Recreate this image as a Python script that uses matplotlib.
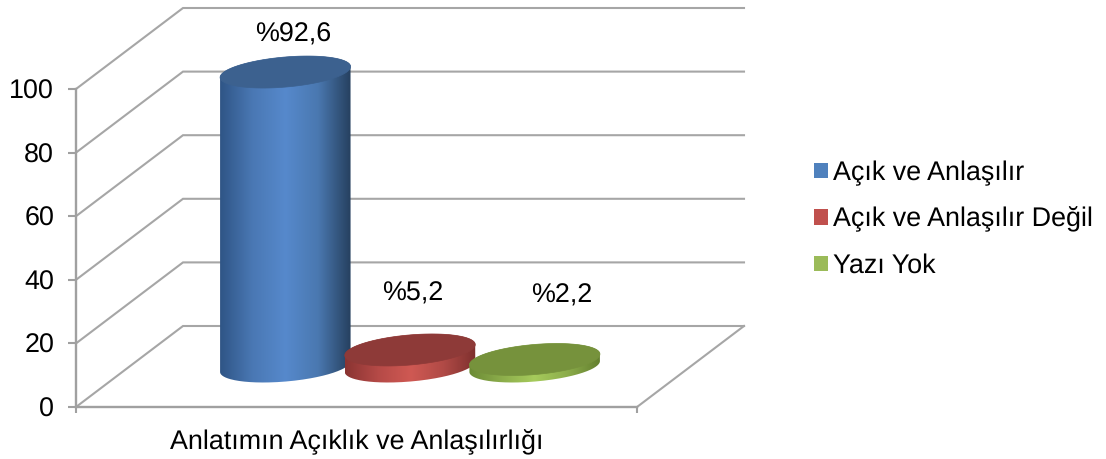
# -*- coding: utf-8 -*-
import numpy as np
import matplotlib
matplotlib.use('Agg')
import matplotlib.pyplot as plt
from matplotlib.colors import LinearSegmentedColormap
from matplotlib.patches import Patch, PathPatch, Polygon
from matplotlib.path import Path

plt.rcParams['font.family'] = ['Liberation Sans', 'DejaVu Sans']
plt.rcParams['text.hinting'] = 'no_hinting'

# data
series_names = ['Açık ve Anlaşılır', 'Açık ve Anlaşılır Değil', 'Yazı Yok']
values = [92.6, 5.2, 2.2]
category = 'Anlatımın Açıklık ve Anlaşılırlığı'
y_ticks = [0, 20, 40, 60, 80, 100]

# styles
legend_colors = ['#4f81bd', '#c0504d', '#9bbb59']
top_colors = ['#3c618f', '#8e3a38', '#76923c']
side_colors = [['#2f5586', '#4a78b4', '#5689cc', '#4a78b0', '#26405f'],
               ['#8a3432', '#b54a47', '#cf5953', '#b04a46', '#7c2f2d'],
               ['#6b8a35', '#8cad4b', '#a6cb5c', '#8cad4b', '#64802f']]
label_offsets = [(8, 37.5), (3, 56), (27, 64)]  # pixels from centre of the top face
grid_color = '#a6a6a6'
font_size = 19.4

W, H = 1106, 459
fig = plt.figure(figsize=(W / 100, H / 100), dpi=100)
ax = fig.add_axes([76 / W, (H - 407) / H, 561 / W, 318 / H])

px_x = 561 / 4.5   # pixels per category step
px_y = 318 / 100.  # pixels per value unit
depth_x = 107 / px_x
depth_y = 81 / px_y


def front_to_back(xs, ys, depth):
    return np.asarray(xs) + depth * depth_x, np.asarray(ys) + depth * depth_y


def ellipse(cx, cy, start, stop, a=65.5, b=15, tilt=5):
    # tilted ellipse, size is in pixels, result in data coordinates
    t = np.radians(np.linspace(start, stop, 120))
    th = np.radians(tilt)
    ex = a * np.cos(t) * np.cos(th) - b * np.sin(t) * np.sin(th)
    ey = a * np.cos(t) * np.sin(th) + b * np.sin(t) * np.cos(th)
    return np.column_stack([cx + ex / px_x, cy + ey / px_y])


x0, x1 = -1.25, 3.25

# walls and floor
for v in y_ticks:
    bx, by = front_to_back([x0, x0], [v, v], 1)
    ax.plot([x0, bx[0], x1 + depth_x], [v, by[0], by[0]], color=grid_color,
            lw=1.5, clip_on=False, zorder=1, solid_joinstyle='miter')
fx, fy = front_to_back([x1], [0], 1)
ax.plot([x1, fx[0]], [0, fy[0]], color=grid_color, lw=1.5, clip_on=False, zorder=1)

# cylinders
for i, v in enumerate(values):
    cx, base = front_to_back([i], [0], 0.5)
    cx, base = cx[0], base[0]
    top = base + v
    z = 3 + i
    outline = np.vstack([ellipse(cx, base, 180, 360), ellipse(cx, top, 0, 180)])
    clip = PathPatch(Path(np.vstack([outline, outline[:1]])), transform=ax.transData,
                     fc='none', ec='none')
    cmap = LinearSegmentedColormap.from_list('side%d' % i, side_colors[i])
    half = 65.5 / px_x
    im = ax.imshow(np.tile(np.linspace(0, 1, 256), (2, 1)), cmap=cmap, aspect='auto',
                   extent=[cx - half, cx + half, base - 10, top + 10],
                   interpolation='bilinear', zorder=z)
    im.set_clip_path(clip)
    im.set_clip_box(fig.bbox)
    ax.add_patch(Polygon(ellipse(cx, top, 0, 360), closed=True, fc=top_colors[i],
                         ec=top_colors[i], lw=0.5, clip_on=False, zorder=z + 0.5))
    dx, dy = label_offsets[i]
    ax.annotate('%' + str(v).replace('.', ','), (cx, top), xycoords='data',
                xytext=(dx * 0.72, dy * 0.72), textcoords='offset points',
                ha='center', va='center', fontsize=font_size, color='black',
                annotation_clip=False, zorder=10)

ax.set_xlim(x0, x1)
ax.set_ylim(0, 100)

ax.patch.set_visible(False)
for side in ['top', 'right']:
    ax.spines[side].set_visible(False)
for side in ['left', 'bottom']:
    ax.spines[side].set_color('#a0a0a0')
    ax.spines[side].set_linewidth(1.7)
    ax.spines[side].set_zorder(2)

ax.set_yticks(y_ticks)
ax.tick_params(axis='y', length=5.8, width=1.5, color='#a0a0a0', pad=10, labelsize=font_size)
ax.set_xticks([1])
ax.set_xticklabels([category])
ax.set_xticks([x0, x1], minor=True)
ax.tick_params(axis='x', which='major', length=0, pad=16, labelsize=font_size)
ax.tick_params(axis='x', which='minor', length=4.5, width=1.5, color='#a0a0a0')

handles = [Patch(fc=c, ec='none', label=n) for c, n in zip(legend_colors, series_names)]
fig.legend(handles=handles, loc='center left', bbox_to_anchor=(814 / W, 1 - 219.5 / H),
           fontsize=font_size, frameon=False, handlelength=0.52, handleheight=0.52,
           handletextpad=0.18, labelspacing=0.78, borderaxespad=0, borderpad=0)

fig.savefig('out.png', dpi=100)
